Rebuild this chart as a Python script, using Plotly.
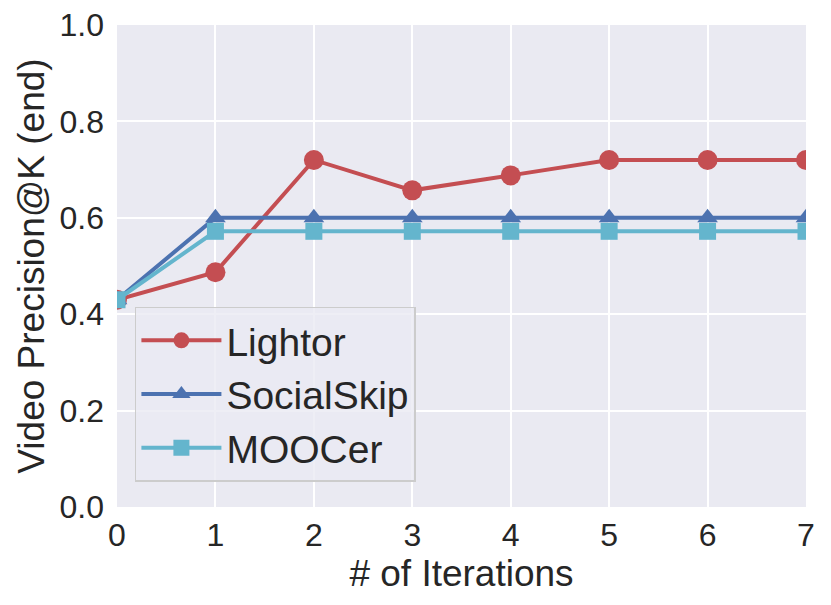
import plotly.graph_objects as go

# iteraciones y valores de precision por metodo
iterations = [0, 1, 2, 3, 4, 5, 6, 7]
lightor = [0.43, 0.487, 0.72, 0.657, 0.688, 0.72, 0.72, 0.72]
socialskip = [0.43, 0.60, 0.60, 0.60, 0.60, 0.60, 0.60, 0.60]
moocer = [0.43, 0.572, 0.572, 0.572, 0.572, 0.572, 0.572, 0.572]

y_ticks = [0.0, 0.2, 0.4, 0.6, 0.8, 1.0]

series = [
    ("Lightor", lightor, "#C44E52", "circle", 20),
    ("SocialSkip", socialskip, "#4C72B0", "triangle-up", 18),
    ("MOOCer", moocer, "#64B5CD", "square", 17),
]

fig = go.Figure()
for name, vals, color, symbol, size in series:
    fig.add_trace(go.Scatter(
        x=iterations, y=vals, name=name, mode="lines+markers",
        line=dict(color=color, width=4),
        marker=dict(symbol=symbol, size=size, color=color),
    ))

fig.update_layout(
    width=831, height=605,
    margin=dict(l=117, r=25, t=25, b=98),
    paper_bgcolor="white",
    plot_bgcolor="#EAEAF2",
    font=dict(family="Arial, Liberation Sans, sans-serif", color="#262626"),
    xaxis=dict(
        range=[0, 7], tickvals=iterations, showgrid=True, gridcolor="white",
        gridwidth=1.5, zeroline=False, showline=False, ticks="",
        tickfont=dict(size=32), automargin=False, ticklabelstandoff=6,
        title=dict(text="# of Iterations", font=dict(size=37), standoff=6),
    ),
    yaxis=dict(
        range=[0, 1], tickvals=y_ticks, tickformat=".1f", showgrid=True,
        gridcolor="white", gridwidth=1.5, zeroline=False, showline=False,
        ticks="", tickfont=dict(size=32), automargin=False, ticklabelstandoff=12,
        title=dict(text="Video Precision@K (end)", font=dict(size=37), standoff=3),
    ),
    legend=dict(
        x=0.026, y=0.415, xanchor="left", yanchor="top",
        bgcolor="rgba(234,234,242,0.8)", bordercolor="#CCCCCC", borderwidth=1.5,
        font=dict(size=39), itemwidth=80, tracegroupgap=6,
    ),
)

# quitar el margen por defecto del body para que la figura quede en (0,0)
fig.write_html("out.html", config={"displayModeBar": False},
               post_script="document.body.style.margin='0';")
